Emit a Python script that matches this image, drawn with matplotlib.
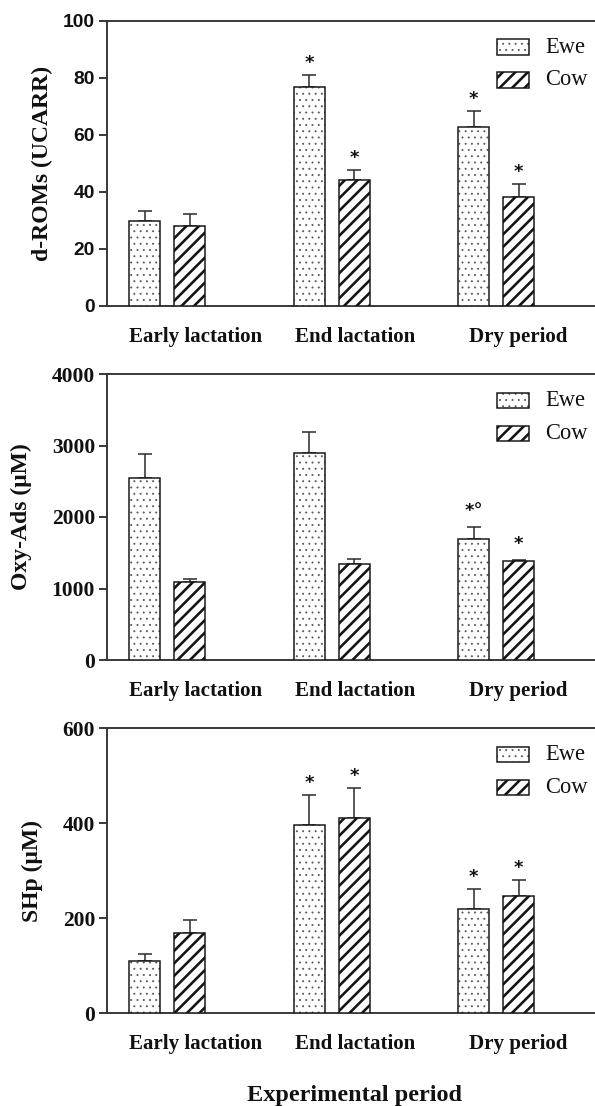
import numpy as np
import matplotlib
matplotlib.use("Agg")
import matplotlib.pyplot as plt
from matplotlib.patches import Rectangle

# ---- data ----
periods = ["Early lactation", "End lactation", "Dry period"]
series = ["Ewe", "Cow"]

droms_ewe = [29.9, 76.8, 62.8]
droms_ewe_sem = [3.5, 4.1, 5.5]
droms_cow = [28.2, 44.3, 38.3]
droms_cow_sem = [4.1, 3.5, 4.3]
droms_ewe_marks = ["", "*", "*"]
droms_cow_marks = ["", "*", "*"]

oxy_ewe = [2550, 2890, 1688]
oxy_ewe_sem = [335, 295, 177]
oxy_cow = [1087, 1347, 1389]
oxy_cow_sem = [46, 61, 14]
oxy_ewe_marks = ["", "", "*°"]
oxy_cow_marks = ["", "", "*"]

shp_ewe = [110.7, 397, 220]
shp_ewe_sem = [14, 63, 42]
shp_cow = [169, 411, 248]
shp_cow_sem = [28, 64, 32]
shp_ewe_marks = ["", "*", "*"]
shp_cow_marks = ["", "*", "*"]

droms_ticks = [0, 20, 40, 60, 80, 100]
oxy_ticks = [0, 1000, 2000, 3000, 4000]
shp_ticks = [0, 200, 400, 600]

# ---- style ----
DPI = 75
W, H = 595, 1106
PT = 72.0 / DPI          # points per pixel
SERIF = "Liberation Serif"
SANS = "Liberation Sans"
SPINE = "#333333"
INK = "#111111"
EDGE = "#151515"
DOT = "#555555"

fig = plt.figure(figsize=(W / DPI, H / DPI), dpi=DPI)
fig.patch.set_facecolor("white")

AX_L, AX_R = 107, 595
PITCH = 164.5            # px between groups
PAIR0 = 167              # px centre of first pair
BAR_W = 31 / PITCH
OFF = 22.5 / PITCH
XLIM = ((AX_L - PAIR0) / PITCH, (AX_R - PAIR0) / PITCH)
LABEL_NUDGE = np.array([0.176, 0.142, 0.134])

STYLES = {
    "Ewe": dict(hatch="..", hatch_lw=0.7, hatch_color=DOT),
    "Cow": dict(hatch="//", hatch_lw=2.5, hatch_color=EDGE),
}


def _set_hlw(artist, lw):
    if hasattr(artist, "set_hatch_linewidth"):
        artist.set_hatch_linewidth(lw)


def make_bars(ax, xs, vals, sem, style):
    # hatched fill first, then a clean outline on top
    with plt.rc_context({"hatch.linewidth": style["hatch_lw"]}):
        fill = ax.bar(xs, vals, width=BAR_W, facecolor="white",
                      edgecolor=style["hatch_color"], linewidth=0,
                      hatch=style["hatch"], zorder=3)
    for b in fill:
        _set_hlw(b, style["hatch_lw"])
    ax.bar(xs, vals, width=BAR_W, facecolor="none", edgecolor=EDGE,
           linewidth=1.5 * PT, zorder=4)
    ax.errorbar(xs, vals, yerr=[np.zeros(len(vals)), sem], fmt="none",
                ecolor=SPINE, elinewidth=1.6 * PT, capsize=7 * PT,
                capthick=1.6 * PT, zorder=2)


def legend_box(ax, ax_h_px):
    x0 = (497 - AX_L) / (AX_R - AX_L)
    w = 32 / (AX_R - AX_L)
    tx = (545 - AX_L) / (AX_R - AX_L)
    for off, name in ((18.6, series[0]), (51.5, series[1])):
        st = STYLES[name]
        y1 = 1 - off / ax_h_px
        h = 15.5 / ax_h_px
        with plt.rc_context({"hatch.linewidth": st["hatch_lw"]}):
            r = Rectangle((x0, y1 - h), w, h, transform=ax.transAxes,
                          facecolor="white", edgecolor=st["hatch_color"],
                          linewidth=0, hatch=st["hatch"], clip_on=False,
                          zorder=5)
        _set_hlw(r, st["hatch_lw"])
        ax.add_patch(r)
        ax.add_patch(Rectangle((x0, y1 - h), w, h, transform=ax.transAxes,
                               facecolor="none", edgecolor=EDGE,
                               linewidth=1.5 * PT, clip_on=False, zorder=6))
        ax.text(tx, y1 - h / 2, name, transform=ax.transAxes,
                ha="left", va="center", family=SERIF, fontsize=22.5 * PT,
                color=INK)


def panel(top_px, bot_px, ewe, ewe_sem, cow, cow_sem, ewe_m, cow_m, ticks,
          ylabel, ylabel_x_px, tick_family, tick_px, star_px):
    ax_h = bot_px - top_px
    ax = fig.add_axes([AX_L / W, 1 - bot_px / H, (AX_R - AX_L) / W, ax_h / H])
    x = np.arange(len(periods))
    make_bars(ax, x - OFF, ewe, ewe_sem, STYLES["Ewe"])
    make_bars(ax, x + OFF, cow, cow_sem, STYLES["Cow"])

    for xs, vals, sem, marks in ((x - OFF, ewe, ewe_sem, ewe_m),
                                 (x + OFF, cow, cow_sem, cow_m)):
        for xi, v, s, m in zip(xs, vals, sem, marks):
            if m:
                ax.annotate(m, (xi, v + s), xytext=(0, star_px * PT),
                            textcoords="offset points", ha="center",
                            va="baseline", fontsize=18 * PT, color=INK,
                            family="DejaVu Sans", fontweight="bold")

    ax.set_xlim(*XLIM)
    ax.set_ylim(ticks[0], ticks[-1])
    ax.set_yticks(ticks)
    ax.set_yticklabels([str(t) for t in ticks], family=tick_family,
                       fontweight="bold", fontsize=tick_px * PT, color=INK)
    ax.set_xticks(x + LABEL_NUDGE)
    ax.set_xticklabels(periods, family=SERIF, fontweight="bold",
                       fontsize=21 * PT, color=INK)
    ax.tick_params(axis="x", length=0, pad=21 * PT)
    ax.tick_params(axis="y", length=8 * PT, width=1.9 * PT, color=SPINE,
                   pad=4 * PT, direction="out")
    for side in ("left", "top", "bottom"):
        ax.spines[side].set_linewidth(1.9 * PT)
        ax.spines[side].set_color(SPINE)
    ax.spines["right"].set_visible(False)

    ax.text((ylabel_x_px - AX_L) / (AX_R - AX_L), 0.5, ylabel,
            transform=ax.transAxes, rotation=90, ha="center", va="center",
            family=SERIF, fontweight="bold", fontsize=23.6 * PT, color=INK)
    legend_box(ax, ax_h)
    return ax


panel(20.7, 306, droms_ewe, droms_ewe_sem, droms_cow, droms_cow_sem,
      droms_ewe_marks, droms_cow_marks, droms_ticks, "d-ROMs (UCARR)",
      42, SANS, 19.2, 7)
panel(374, 660, oxy_ewe, oxy_ewe_sem, oxy_cow, oxy_cow_sem,
      oxy_ewe_marks, oxy_cow_marks, oxy_ticks, "Oxy-Ads (μM)",
      21, SERIF, 21.5, 11)
panel(728.3, 1013.3, shp_ewe, shp_ewe_sem, shp_cow, shp_cow_sem,
      shp_ewe_marks, shp_cow_marks, shp_ticks, "SHp (μM)",
      32, SERIF, 21.5, 7)

fig.text(354.5 / W, 1 - 1096 / H, "Experimental period", ha="center",
         va="center", family=SERIF, fontweight="bold", fontsize=24.3 * PT,
         color=INK)

fig.savefig("out.png", dpi=DPI, facecolor="white")
